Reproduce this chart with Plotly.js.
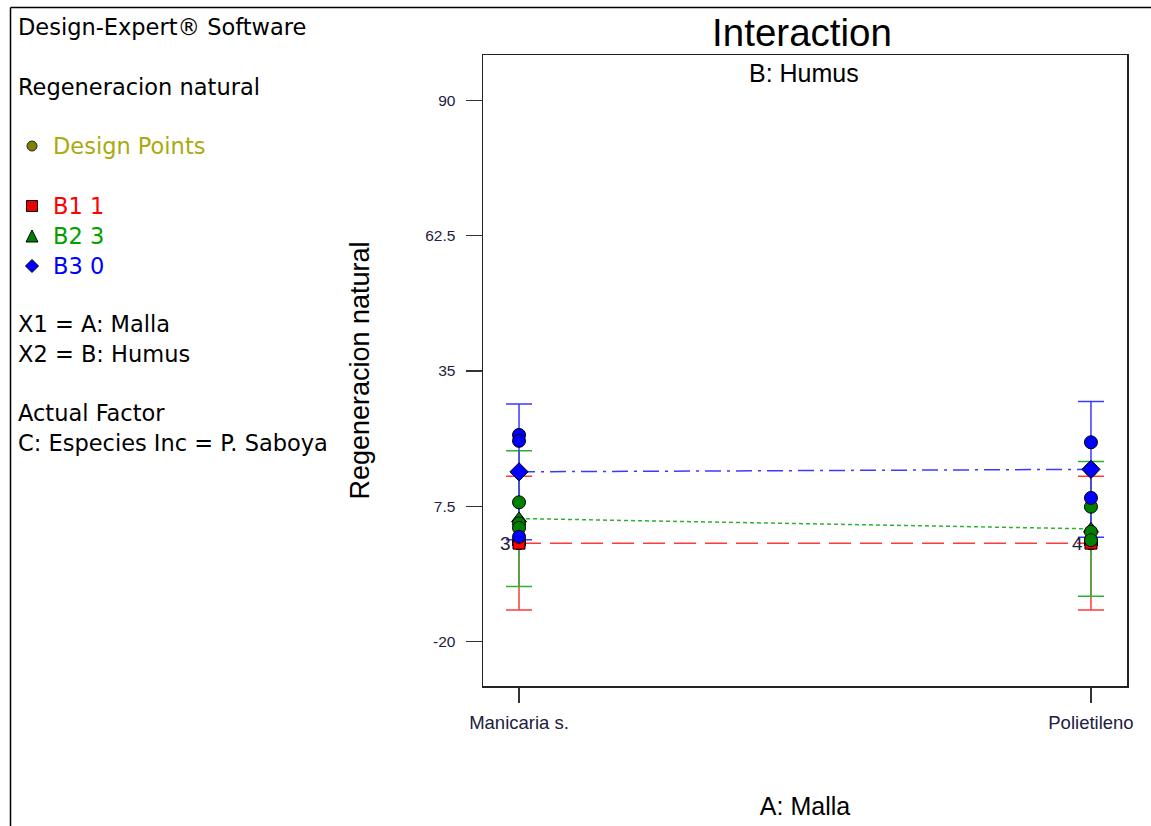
<!DOCTYPE html>
<html><head><meta charset="utf-8">
<script src="https://cdn.plot.ly/plotly-3.0.1.min.js"></script>
<style>html,body{margin:0;padding:0;background:#fff}#chart{width:1151px;height:826px}</style>
</head><body><div id="chart"></div>
<script>
// ---- data ----
const categories = ['Manicaria s.', 'Polietileno'];
const seriesNames = ['B1 1', 'B2 3', 'B3 0'];
const meanB1 = [0.0, 0.0];
const meanB2 = [5.0, 2.9];
const meanB3 = [14.5, 15.0];
const errB1 = [13.6, 13.6];
const errB2 = [13.8, 13.7];
const errB3 = [13.8, 13.8];
// design points (actual observations)
const ptsB1X = ['Manicaria s.', 'Manicaria s.', 'Manicaria s.', 'Polietileno', 'Polietileno', 'Polietileno', 'Polietileno'];
const ptsB1Y = [0, 0, 0, 0, 0, 0, 0];
const ptsB2X = ['Manicaria s.', 'Manicaria s.', 'Manicaria s.', 'Polietileno', 'Polietileno', 'Polietileno'];
const ptsB2Y = [8.3, 4.0, 3.1, 7.4, 2.3, 0.6];
const ptsB3X = ['Manicaria s.', 'Manicaria s.', 'Manicaria s.', 'Polietileno', 'Polietileno', 'Polietileno'];
const ptsB3Y = [22.0, 20.8, 1.3, 20.5, 15.0, 9.2];
const countLabels = ['3', '4'];
const countY = [0, 0];
const yTicks = [-20, 7.5, 35, 62.5, 90];
const yTickText = ['-20', '7.5', '35', '62.5', '90'];

// ---- layout helpers (pixel -> paper) ----
const W = 1151, H = 826;
const px = x => x / W;
const py = y => 1 - y / H;

const RED = '#ff0000', GREEN = '#008000', BLUE = '#0000ff';
const RED_L = '#ff3a3a', GREEN_L = '#30b030', BLUE_L = '#3a3aff';

function lineTrace(mean, err, lcolor, dash) {
  return {
    type: 'scatter', mode: 'lines', x: categories, y: mean,
    line: {color: lcolor, width: 1.5, dash: dash},
    error_y: {type: 'data', array: err, visible: true, color: lcolor, thickness: 1.5, width: 13},
    hoverinfo: 'skip', showlegend: false
  };
}
function ptsTrace(xs, ys, color) {
  return {
    type: 'scatter', mode: 'markers', x: xs, y: ys,
    marker: {symbol: 'circle', size: 13, color: color, line: {color: '#000', width: 1}},
    showlegend: false
  };
}
function meanTrace(mean, color, symbol, size) {
  return {
    type: 'scatter', mode: 'markers', x: categories, y: mean,
    marker: {symbol: symbol, size: size, color: color, line: {color: '#000', width: 1}},
    showlegend: false
  };
}

const traces = [
  lineTrace(meanB1, errB1, RED_L, '22px,9px'),
  lineTrace(meanB2, errB2, GREEN_L, '4px,3px'),
  lineTrace(meanB3, errB3, BLUE_L, '16px,6px,3px,6px'),
  ptsTrace(ptsB1X, ptsB1Y, RED),
  meanTrace(meanB1, RED, 'square', 12),
  meanTrace(meanB2, GREEN, 'triangle-up', 13),
  ptsTrace(ptsB2X, ptsB2Y, GREEN),
  ptsTrace(ptsB3X, ptsB3Y, BLUE),
  meanTrace(meanB3, BLUE, 'diamond', 14)
];

const F = 'DejaVu Sans, sans-serif';
const A = 'Liberation Sans, Arial, sans-serif';
const leftText = (t, y, color, x) => ({
  xref: 'paper', yref: 'paper', x: px(x === undefined ? 16 : x), y: py(y),
  xanchor: 'left', yanchor: 'middle', showarrow: false, text: t,
  font: {family: F, size: 22.5, color: color || '#000'}
});

const annotations = [
  leftText('Design-Expert® Software', 27),
  leftText('Regeneracion natural', 87),
  leftText('Design Points', 146, '#aaaa10', 51),
  leftText(seriesNames[0], 206, '#ff0000', 51),
  leftText(seriesNames[1], 236, '#00a000', 51),
  leftText(seriesNames[2], 266, '#0000ff', 51),
  leftText('X1 = A: Malla', 324),
  leftText('X2 = B: Humus', 354),
  leftText('Actual Factor', 413),
  leftText('C: Especies Inc = P. Saboya', 443),
  {xref: 'paper', yref: 'paper', x: px(804), y: py(73), xanchor: 'center', yanchor: 'middle',
   showarrow: false, text: 'B: Humus', font: {family: A, size: 25, color: '#000'}},
  {xref: 'x', yref: 'y', x: categories[0], y: countY[0], xanchor: 'right', yanchor: 'middle', xshift: -6,
   showarrow: false, text: countLabels[0], font: {family: A, size: 19, color: '#223'}},
  {xref: 'x', yref: 'y', x: categories[1], y: countY[1], xanchor: 'right', yanchor: 'middle', xshift: -6,
   showarrow: false, text: countLabels[1], font: {family: A, size: 19, color: '#223'}}
];

const shapes = [
  // outer frame
  {type: 'line', xref: 'paper', yref: 'paper', x0: px(10.5), x1: px(10.5), y0: py(7.5), y1: py(830), line: {color: '#000', width: 1.5}},
  {type: 'line', xref: 'paper', yref: 'paper', x0: px(10.5), x1: px(1151), y0: py(7.5), y1: py(7.5), line: {color: '#000', width: 1.5}},
  // legend symbols
  {type: 'circle', xref: 'paper', yref: 'paper', x0: px(27), x1: px(37), y0: py(141), y1: py(151), fillcolor: '#808000', line: {color: '#222', width: 1}},
  {type: 'rect', xref: 'paper', yref: 'paper', x0: px(26.5), x1: px(37.5), y0: py(200.5), y1: py(211.5), fillcolor: '#ee0000', line: {color: '#000', width: 1}},
  {type: 'path', xref: 'paper', yref: 'paper', path: `M ${px(26)} ${py(242)} L ${px(38)} ${py(242)} L ${px(32)} ${py(230)} Z`, fillcolor: '#008000', line: {color: '#000', width: 1}},
  {type: 'path', xref: 'paper', yref: 'paper', path: `M ${px(32)} ${py(259.5)} L ${px(38.5)} ${py(266)} L ${px(32)} ${py(272.5)} L ${px(25.5)} ${py(266)} Z`, fillcolor: '#0000ff', line: {color: '#000', width: 1}}
];

const layout = {
  width: W, height: H,
  margin: {l: 0, r: 0, t: 0, b: 0},
  paper_bgcolor: '#fff', plot_bgcolor: '#fff',
  showlegend: false,
  title: {text: 'Interaction', font: {family: A, size: 38.5, color: '#000'},
          xref: 'paper', x: px(802), xanchor: 'center', yref: 'paper', y: py(33), yanchor: 'middle'},
  xaxis: {
    domain: [px(483), px(1127)], anchor: 'y',
    type: 'category', range: [-0.063, 1.063],
    showline: true, mirror: true, linecolor: '#222', linewidth: 1.5,
    ticks: 'outside', ticklen: 15, tickwidth: 1.2, tickcolor: '#333',
    ticklabelstandoff: 4,
    showgrid: false, zeroline: false,
    tickfont: {family: A, size: 18.5, color: '#202040'},
    title: {text: 'A: Malla', font: {family: A, size: 25, color: '#000'}, standoff: 66}
  },
  yaxis: {
    domain: [py(686), py(55)], anchor: 'x',
    range: [-29.05, 99.25],
    tickvals: yTicks, ticktext: yTickText,
    showline: true, mirror: true, linecolor: '#222', linewidth: 1.5,
    ticks: 'outside', ticklen: 16, tickwidth: 1.2, tickcolor: '#333',
    ticklabelstandoff: 7,
    showgrid: false, zeroline: false,
    tickfont: {family: A, size: 15.5, color: '#202040'},
    title: {text: 'Regeneracion natural', font: {family: A, size: 27, color: '#000'}, standoff: 48}
  },
  annotations: annotations,
  shapes: shapes
};

Plotly.newPlot('chart', traces, layout, {staticPlot: true, displayModeBar: false});
</script>
</body></html>
